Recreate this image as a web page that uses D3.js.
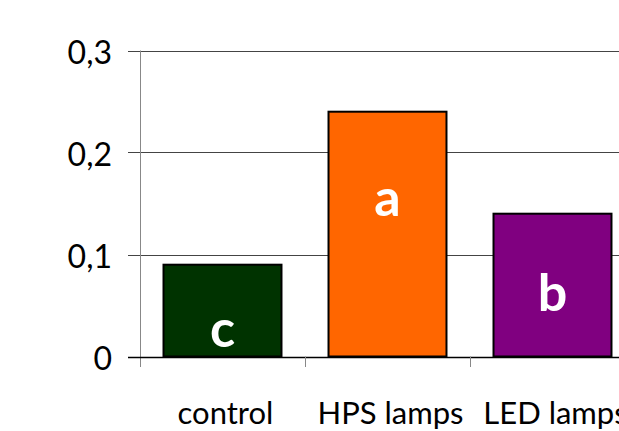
<!DOCTYPE html>
<html><head><meta charset="utf-8">
<script src="https://cdn.jsdelivr.net/npm/d3@7"></script>
<style>html,body{margin:0;padding:0;background:#fff;}svg{display:block;}</style>
</head><body>
<script>
const categories = ["control", "HPS lamps", "LED lamps"];
const values = [0.09, 0.24, 0.14];
const letters = ["c", "a", "b"];
const colors = ["#003300", "#FF6600", "#800080"];
const yTicks = [0, 0.1, 0.2, 0.3];
const yTickLabels = ["0", "0,1", "0,2", "0,3"];

const W = 619, H = 431;
const svg = d3.select("body").append("svg").attr("width", W).attr("height", H);
const font = "Lato, 'Open Sans', sans-serif";

const y = d3.scaleLinear().domain([0, 0.3]).range([356.5, 50.5]);
const x = d3.scaleBand().domain(categories).range([140, 635]).paddingInner(0.285).paddingOuter(0.1425);
const xt = d3.scaleBand().domain(categories).range([140, 635]).padding(0);

// gridlines
svg.append("g").selectAll("line").data(yTicks.slice(1)).join("line")
  .attr("x1", 140).attr("x2", W).attr("y1", d => Math.round(y(d)) + 0.5).attr("y2", d => Math.round(y(d)) + 0.5)
  .attr("stroke", "#444").attr("stroke-width", 1);

// y tick marks
svg.append("g").selectAll("line").data(yTicks).join("line")
  .attr("x1", 128).attr("x2", 140).attr("y1", d => Math.round(y(d)) + 0.5).attr("y2", d => Math.round(y(d)) + 0.5)
  .attr("stroke", d => d === 0 ? "#000" : "#444");

// y labels
svg.append("g").selectAll("text").data(yTicks).join("text")
  .attr("x", 112).attr("y", d => y(d) + 13)
  .attr("text-anchor", "end").attr("font-family", font).attr("font-size", 32).attr("fill", "#000")
  .text((d, i) => yTickLabels[i]);

// bars
svg.append("g").selectAll("rect").data(values).join("rect")
  .attr("x", (d, i) => x(categories[i]))
  .attr("width", x.bandwidth())
  .attr("y", d => y(d))
  .attr("height", d => y(0) - y(d))
  .attr("fill", (d, i) => colors[i])
  .attr("stroke", "#000").attr("stroke-width", 2);

// y axis line
svg.append("line").attr("x1", 140.5).attr("x2", 140.5).attr("y1", y(0.3)).attr("y2", 367)
  .attr("stroke", "#888").attr("stroke-width", 1);

// x axis line
svg.append("line").attr("x1", 128).attr("x2", W).attr("y1", Math.round(y(0)) + 0.5).attr("y2", Math.round(y(0)) + 0.5)
  .attr("stroke", "#000").attr("stroke-width", 1.5);

// category ticks
svg.append("g").selectAll("line").data(categories.slice(1)).join("line")
  .attr("x1", d => Math.round(xt(d)) + 0.5).attr("x2", d => Math.round(xt(d)) + 0.5)
  .attr("y1", y(0)).attr("y2", 367).attr("stroke", "#888");

// x labels
svg.append("g").selectAll("text").data(categories).join("text")
  .attr("x", d => xt(d) + xt.bandwidth() / 2 + 3).attr("y", 424)
  .attr("text-anchor", "middle").attr("font-family", font).attr("font-size", 31).attr("fill", "#000")
  .text(d => d);

// letters
const letterY = [346.5, 216, 311];
svg.append("g").selectAll("text").data(letters).join("text")
  .attr("x", (d, i) => x(categories[i]) + x.bandwidth() / 2)
  .attr("y", (d, i) => letterY[i])
  .attr("text-anchor", "middle").attr("font-family", font).attr("font-weight", "bold")
  .attr("font-size", 52).attr("fill", "#fff")
  .text(d => d);
</script>
</body></html>
